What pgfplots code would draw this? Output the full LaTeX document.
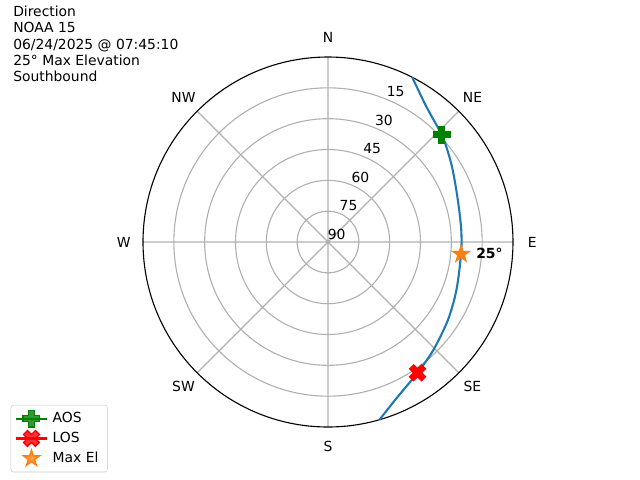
\documentclass[border=0pt]{standalone}
\usepackage{pgfplots}
\pgfplotsset{compat=1.18}
\usepgfplotslibrary{polar}
\usepackage{pgfplotstable}
\usepackage{fontspec}
\setmainfont{DejaVu Sans}
\definecolor{tabblue}{HTML}{1F77B4}
\definecolor{taborange}{HTML}{FF7F0E}
\definecolor{mplgreen}{HTML}{008000}
\definecolor{mplred}{HTML}{FF0000}
\definecolor{gridgray}{HTML}{B0B0B0}
\definecolor{legframe}{HTML}{CCCCCC}

\pgfdeclareplotmark{pfill}{%
  \pgfpathmoveto{\pgfpoint{0.3333\pgfplotmarksize}{\pgfplotmarksize}}%
  \pgfpathlineto{\pgfpoint{0.3333\pgfplotmarksize}{0.3333\pgfplotmarksize}}%
  \pgfpathlineto{\pgfpoint{\pgfplotmarksize}{0.3333\pgfplotmarksize}}%
  \pgfpathlineto{\pgfpoint{\pgfplotmarksize}{-0.3333\pgfplotmarksize}}%
  \pgfpathlineto{\pgfpoint{0.3333\pgfplotmarksize}{-0.3333\pgfplotmarksize}}%
  \pgfpathlineto{\pgfpoint{0.3333\pgfplotmarksize}{-\pgfplotmarksize}}%
  \pgfpathlineto{\pgfpoint{-0.3333\pgfplotmarksize}{-\pgfplotmarksize}}%
  \pgfpathlineto{\pgfpoint{-0.3333\pgfplotmarksize}{-0.3333\pgfplotmarksize}}%
  \pgfpathlineto{\pgfpoint{-\pgfplotmarksize}{-0.3333\pgfplotmarksize}}%
  \pgfpathlineto{\pgfpoint{-\pgfplotmarksize}{0.3333\pgfplotmarksize}}%
  \pgfpathlineto{\pgfpoint{-0.3333\pgfplotmarksize}{0.3333\pgfplotmarksize}}%
  \pgfpathlineto{\pgfpoint{-0.3333\pgfplotmarksize}{\pgfplotmarksize}}%
  \pgfpathclose\pgfusepathqfillstroke}
\pgfdeclareplotmark{xfill}{%
  \pgftransformrotate{45}%
  \pgfuseplotmark{pfill}}
\pgfdeclareplotmark{starfill}{%
  \pgfpathmoveto{\pgfpointpolar{90}{\pgfplotmarksize}}%
  \pgfpathlineto{\pgfpointpolar{126}{0.381966\pgfplotmarksize}}%
  \pgfpathlineto{\pgfpointpolar{162}{\pgfplotmarksize}}%
  \pgfpathlineto{\pgfpointpolar{198}{0.381966\pgfplotmarksize}}%
  \pgfpathlineto{\pgfpointpolar{234}{\pgfplotmarksize}}%
  \pgfpathlineto{\pgfpointpolar{270}{0.381966\pgfplotmarksize}}%
  \pgfpathlineto{\pgfpointpolar{306}{\pgfplotmarksize}}%
  \pgfpathlineto{\pgfpointpolar{342}{0.381966\pgfplotmarksize}}%
  \pgfpathlineto{\pgfpointpolar{18}{\pgfplotmarksize}}%
  \pgfpathlineto{\pgfpointpolar{54}{0.381966\pgfplotmarksize}}%
  \pgfpathclose\pgfusepathqfillstroke}

\pgfplotsset{
  linemark legend/.style={legend image code/.code={%
    \draw[##1] (0pt,0pt) -- (22pt,0pt);
    \draw[##1, only marks] plot coordinates {(11pt,0pt)};}},
  markonly legend/.style={legend image code/.code={%
    \draw[##1, only marks] plot coordinates {(11pt,0pt)};}},
}

% satellite track: azimuth (deg, clockwise from N), elevation (deg)
\pgfplotstableread{
az el
27.1 0
36.0 8.6
46.6 13.9
52.6 16.8
59.9 19.9
72.0 23.6
84.8 24.9
95.2 25.0
110.5 23.3
123.0 20.4
135.7 16.6
145.6 12.9
157.0 6.5
163.8 0
}\track
\pgfplotstableread{
az el
46.6 13.9
}\aos
\pgfplotstableread{
az el
145.6 12.9
}\los
\pgfplotstableread{
az el
95.2 25.0
}\maxel

\begin{document}
\begin{tikzpicture}
\path[use as bounding box] (0,0) rectangle (460.8pt,-345.6pt);
\node[anchor=base west, inner sep=0] at (9.36pt,-12.0pt) {Direction};
\node[anchor=base west, inner sep=0] at (9.36pt,-23.7pt) {NOAA 15};
\node[anchor=base west, inner sep=0] at (9.36pt,-35.4pt) {06/24/2025 @ 07:45:10};
\node[anchor=base west, inner sep=0] at (9.36pt,-47.1pt) {25° Max Elevation};
\node[anchor=base west, inner sep=0] at (9.36pt,-58.8pt) {Southbound};
\begin{polaraxis}[
  at={(236.16pt,-174.24pt)}, anchor=center,
  width=266.4pt, scale only axis,
  ymin=0, ymax=90,
  xtick={0,45,...,315}, ytick={15,30,45,60,75},
  xticklabels={}, yticklabels={},
  grid=major, major grid style={gridgray, line width=0.8pt},
  axis line style={black, line width=0.8pt},
  y axis line style={draw=none},
  major tick length=0pt,
  clip=false,
  legend cell align=left,
  legend style={at={(-0.3576,-0.1224)}, anchor=south west,
    draw=legframe, rounded corners=2pt, fill=white, fill opacity=0.8, text opacity=1,
    font=\fontsize{10}{12}\selectfont, row sep=1.4pt,
    inner xsep=3pt, inner ysep=3.2pt,
    nodes={inner sep=2pt},
    /tikz/column 2/.style={column sep=0pt, nodes={inner xsep=3.5pt}}},
]
\addplot[tabblue, line width=1.5pt, smooth, forget plot]
  table[x expr={90-\thisrow{az}}, y expr={90-\thisrow{el}}] {\track};
\addplot[mplgreen, line width=1.5pt, mark=pfill, mark size=6pt,
  mark options={line width=1pt, fill=mplgreen, solid}, linemark legend]
  table[x expr={90-\thisrow{az}}, y expr={90-\thisrow{el}}] {\aos};
\addlegendentry{AOS}
\addplot[mplred, line width=1.5pt, mark=xfill, mark size=6pt,
  mark options={line width=1pt, fill=mplred, solid}, linemark legend]
  table[x expr={90-\thisrow{az}}, y expr={90-\thisrow{el}}] {\los};
\addlegendentry{LOS}
\addplot[taborange, only marks, mark=starfill, mark size=6pt,
  mark options={line width=1pt, fill=taborange, solid}, markonly legend]
  table[x expr={90-\thisrow{az}}, y expr={90-\thisrow{el}}] {\maxel};
\addlegendentry{Max El}
% elevation labels
\node[xshift=6.3pt, yshift=5.6pt] at (axis cs:67.5,75) {15};
\node[xshift=6.3pt, yshift=5.6pt] at (axis cs:67.5,60) {30};
\node[xshift=6.3pt, yshift=5.6pt] at (axis cs:67.5,45) {45};
\node[xshift=6.3pt, yshift=5.6pt] at (axis cs:67.5,30) {60};
\node[xshift=6.3pt, yshift=5.6pt] at (axis cs:67.5,15) {75};
\node[xshift=6.3pt, yshift=5.6pt] at (axis cs:67.5,0) {90};
% direction labels
\node at (axis cs:90,99.4) {N};
\node at (axis cs:45,99.4) {NE};
\node at (axis cs:0,99.4) {E};
\node at (axis cs:-45,99.4) {SE};
\node at (axis cs:-90,99.4) {S};
\node at (axis cs:-135,99.4) {SW};
\node at (axis cs:180,99.4) {W};
\node at (axis cs:135,99.4) {NW};
\node[anchor=west, inner sep=0, font=\bfseries, xshift=10.8pt, yshift=0.4pt] at (axis cs:-5.2,65) {25°};
\end{polaraxis}
\end{tikzpicture}
\end{document}
